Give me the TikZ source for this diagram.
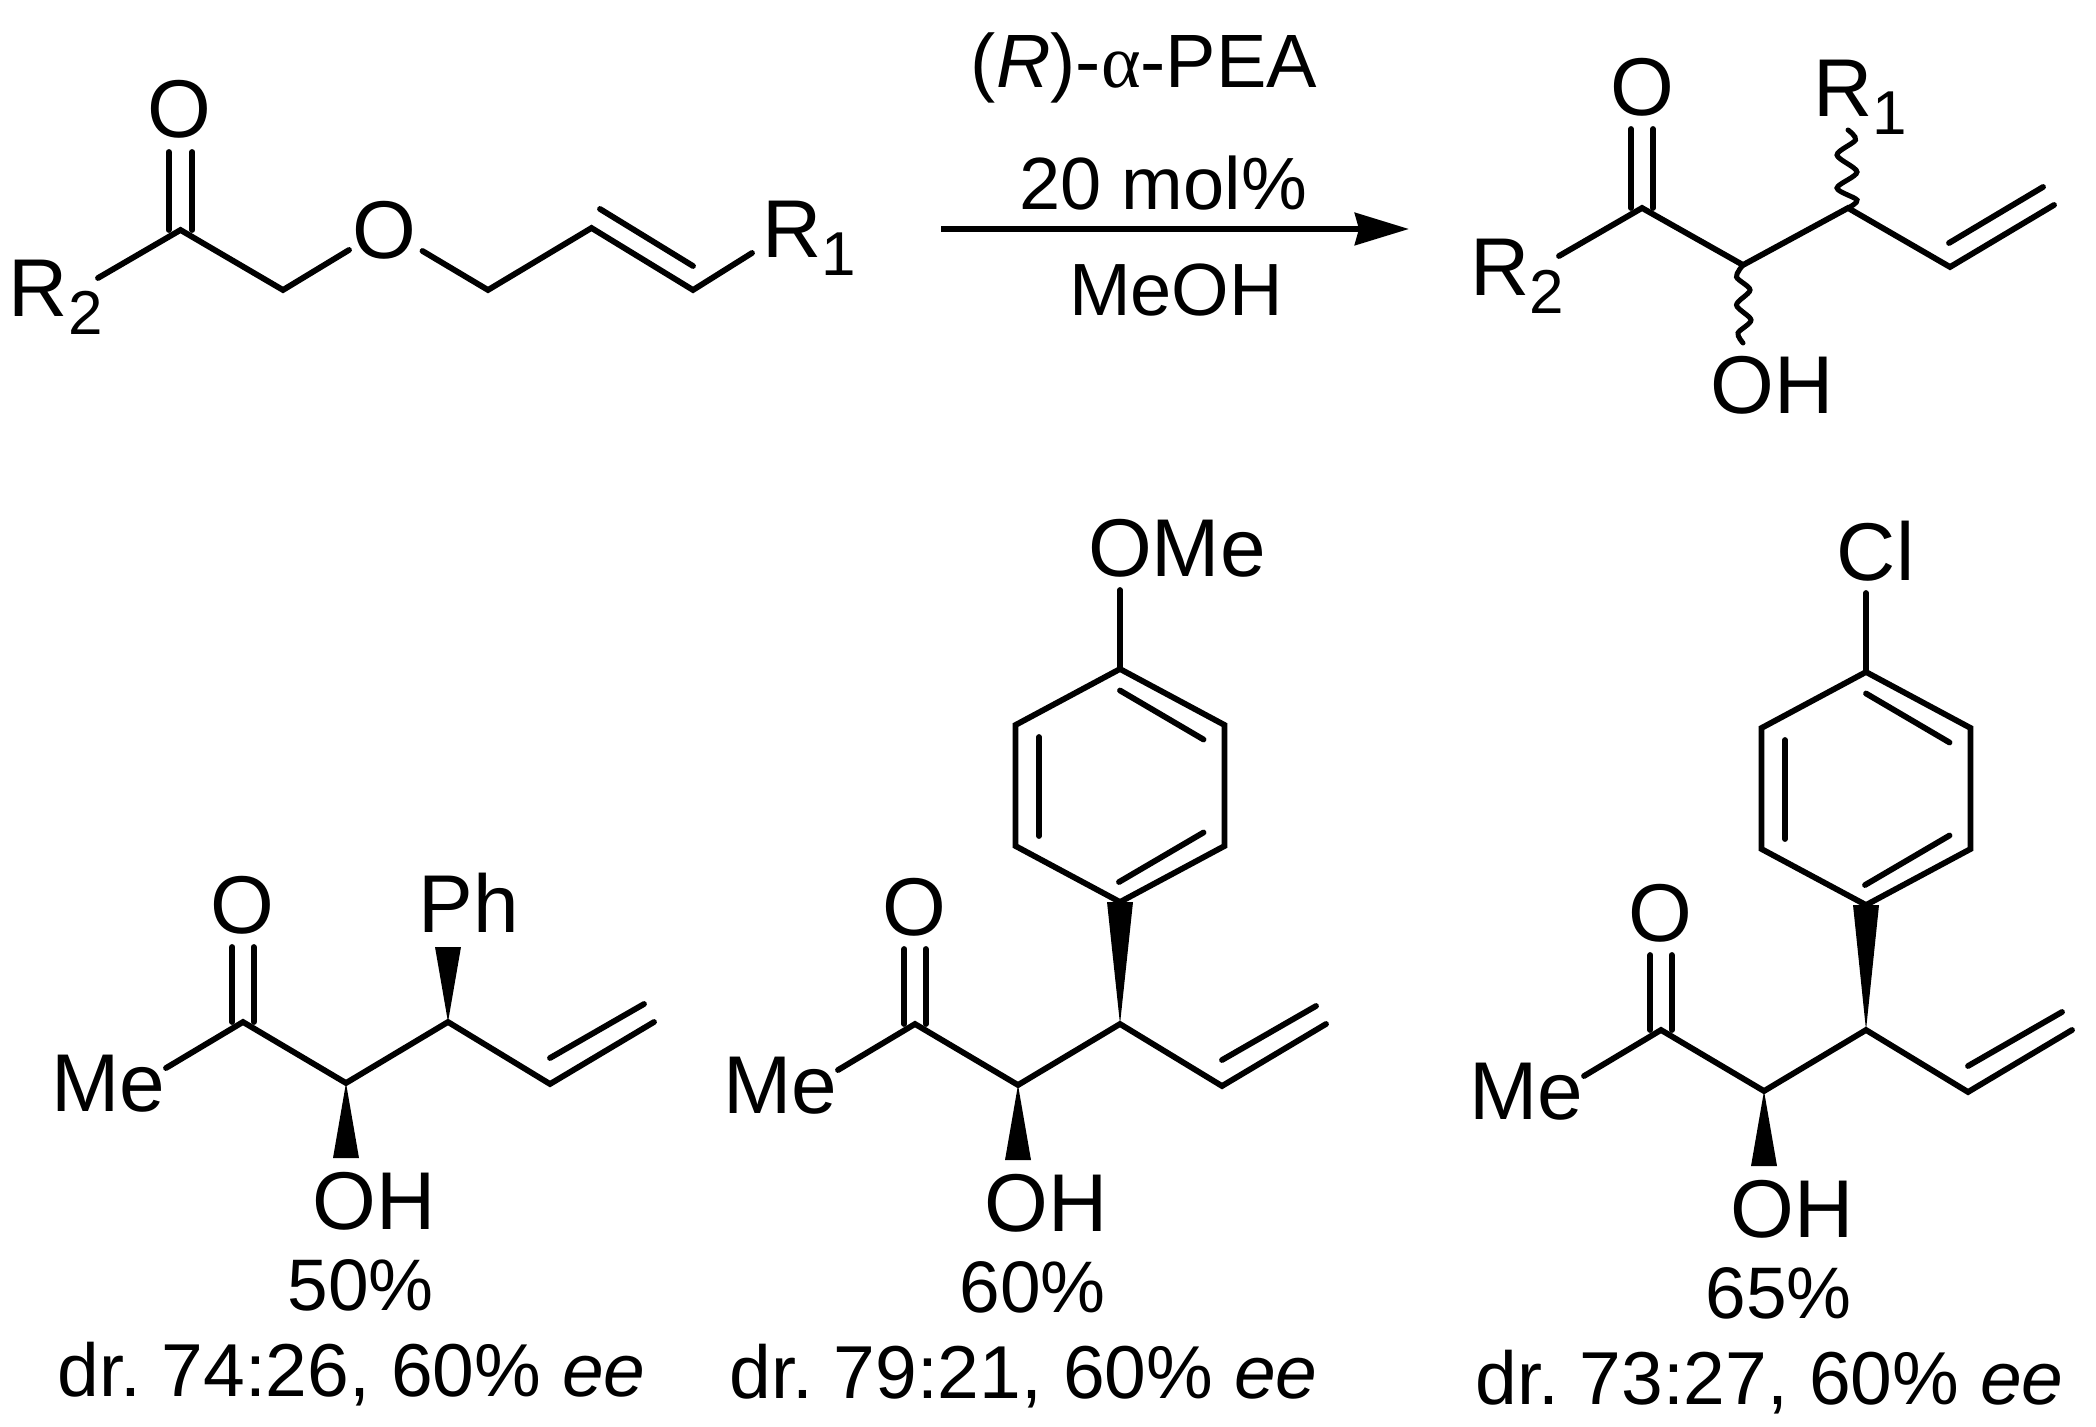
\documentclass[tikz,border=0pt]{standalone}
\usepackage{fontspec}
\setmainfont{Liberation Sans}
\newfontfamily\alphafont{Liberation Serif}
\usetikzlibrary{arrows.meta}

\newcommand{\lowdigit}[1]{\raisebox{-9pt}{\fontsize{31}{31}\selectfont #1}}

\tikzset{
  bond/.style={line width=2.9pt, line cap=round, line join=miter},
  wavybond/.style={line width=2.5pt, line cap=round},
  wedge/.style={fill=black, draw=none},
  atom/.style={inner sep=0pt, outer sep=0pt, anchor=base, font=\fontsize{41}{41}\selectfont},
  bigatom/.style={atom, font=\fontsize{41}{41}\selectfont},
  cond/.style={inner sep=0pt, outer sep=0pt, anchor=base, font=\fontsize{37}{37}\selectfont},
  result/.style={inner sep=0pt, outer sep=0pt, anchor=base, font=\fontsize{37.5}{37.5}\selectfont}
}

\begin{document}
\begin{tikzpicture}[x=0.5pt, y=-0.5pt]
\useasboundingbox (0,0) rectangle (2096,1427);

% starting material
\node[bigatom] (sO1) at (179.5,138) {O};
\node[bigatom] (sO2) at (384,259) {O};
\node[bigatom, anchor=base west] (sR2) at (9,317) {R\lowdigit{2}};
\node[bigatom, anchor=base west] (sR1) at (762,258) {R\lowdigit{1}};
\coordinate (s1) at (180.5,230);
\coordinate (s2) at (283,290);
\coordinate (s3) at (488,290);
\coordinate (s4) at (591.5,228);
\coordinate (s5) at (693,290);
\coordinate (sOend) at (180.5,152);
\coordinate (sR2end) at (98,278);
\coordinate (sO2a) at (349,250);
\coordinate (sO2b) at (422.5,251);
\coordinate (sR1end) at (752,253);
\coordinate (s4b) at (600,209);
\coordinate (s5b) at (693,266);
\draw[bond] (sR2end) -- (s1) -- (s2) -- (sO2a);
\draw[bond] (sO2b) -- (s3) -- (s4) -- (s5) -- (sR1end);
\draw[bond] (s4b) -- (s5b);
\draw[bond] ([xshift=-5.9pt]s1) -- ([xshift=-5.9pt]sOend);
\draw[bond] ([xshift=5.9pt]s1) -- ([xshift=5.9pt]sOend);

% arrow
\coordinate (arrowstart) at (941,229);
\coordinate (arrowend) at (1409,229);
\draw[line width=3.2pt, -{Stealth[length=27pt, width=16pt, inset=2pt]}] (arrowstart) -- (arrowend);
\node[cond, font=\fontsize{37.8}{37.8}\selectfont] (catalyst) at (1144,88) {(\textit{R})-{\alphafont α}-PEA};
\node[cond] (loading) at (1163,210) {20 mol\%};
\node[cond] (solvent) at (1176,316) {MeOH};

% general product
\node[bigatom] (pO) at (1642,116) {O};
\node[bigatom, anchor=base west] (pR2) at (1470,296) {R\lowdigit{2}};
\node[bigatom, anchor=base west] (pR1) at (1813,117) {R\lowdigit{1}};
\node[bigatom] (pOH) at (1772,414) {OH};
\coordinate (p1) at (1642,208);
\coordinate (p2) at (1743,265);
\coordinate (p3) at (1848,208);
\coordinate (p4) at (1950,267);
\coordinate (p5) at (2054,205);
\coordinate (pOend) at (1642,129);
\coordinate (pR2end) at (1559,256);
\coordinate (pR1end) at (1848,130);
\coordinate (pOHend) at (1743,343);
\coordinate (p4b) at (1949,243);
\coordinate (p5b) at (2043,187);
\draw[bond] (pR2end) -- (p1) -- (p2) -- (p3) -- (p4) -- (p5);
\draw[bond] (p4b) -- (p5b);
\draw[bond] ([xshift=-5.5pt]p1) -- ([xshift=-5.5pt]pOend);
\draw[bond] ([xshift=5.5pt]p1) -- ([xshift=5.5pt]pOend);
\draw[wavybond] plot[smooth] coordinates {(p3) (1857,200) (1837,188) (1857,172) (1837,155) (1855.5,140) (pR1end)};
\draw[wavybond] plot[smooth] coordinates {(p2) (1736.5,277) (1750,290) (1736.5,305) (1751,320) (1738,333) (pOHend)};

% the three products
\foreach \nm/\dx/\dy/\yld/\ratio in {a/0/0/50/74:26, b/672/2/60/79:21, c/1418/8/65/73:27}{
  \begin{scope}[shift={(\dx,\dy)}]
    \node[atom] (\nm O) at (242,933) {O};
    \node[atom] (\nm Me) at (108,1111) {Me};
    \node[atom] (\nm OH) at (374,1229) {OH};
    \node[result, font=\fontsize{36.5}{36.5}\selectfont] (\nm yield) at (360.5,1310) {\yld\%};
    \node[result] (\nm dr) at (351.5,1396) {dr.\ \ratio, 60\% \textit{ee}};
    \coordinate (\nm1) at (243,1022);
    \coordinate (\nm2) at (346,1083);
    \coordinate (\nm3) at (448,1022);
    \coordinate (\nm4) at (550,1084);
    \coordinate (\nm5) at (654,1022);
    \coordinate (\nm Oend) at (243,947);
    \coordinate (\nm Meend) at (166,1068);
    \coordinate (\nm OHa) at (333,1158);
    \coordinate (\nm OHb) at (359,1158);
    \coordinate (\nm4b) at (550,1058);
    \coordinate (\nm5b) at (644,1004);
    \draw[bond] (\nm Meend) -- (\nm1) -- (\nm2) -- (\nm3) -- (\nm4) -- (\nm5);
    \draw[bond] (\nm4b) -- (\nm5b);
    \draw[bond] ([xshift=-5.35pt]\nm1) -- ([xshift=-5.35pt]\nm Oend);
    \draw[bond] ([xshift=5.35pt]\nm1) -- ([xshift=5.35pt]\nm Oend);
    \fill[wedge] (\nm2) -- (\nm OHa) -- (\nm OHb) -- cycle;
  \end{scope}
}

% Ph on the first one
\node[atom] (aPh) at (468.5,932) {Ph};
\coordinate (aPha) at (435,947);
\coordinate (aPhb) at (461,947);
\fill[wedge] (a3) -- (aPha) -- (aPhb) -- cycle;

% aryl rings
\foreach \nm/\dx/\dy in {b/0/0, c/746/3}{
  \begin{scope}[shift={(\dx,\dy)}]
    \coordinate (\nm r1) at (1120,669);
    \coordinate (\nm r2) at (1224.5,725);
    \coordinate (\nm r3) at (1224.5,846);
    \coordinate (\nm r4) at (1120,902);
    \coordinate (\nm r5) at (1015.5,846);
    \coordinate (\nm r6) at (1015.5,725);
    \coordinate (\nm up) at (1120,590);
    \draw[bond] (\nm r1) -- (\nm r2) -- (\nm r3) -- (\nm r4) -- (\nm r5) -- (\nm r6) -- cycle;
    \draw[bond] (\nm up) -- (\nm r1);
    \draw[bond] (1120,690.5) coordinate (\nm i1) -- (1203.5,739.5) coordinate (\nm i2);
    \draw[bond] (1039,737) coordinate (\nm i3) -- (1039,836) coordinate (\nm i4);
    \draw[bond] (1119,882) coordinate (\nm i5) -- (1203.5,832.5) coordinate (\nm i6);
    \coordinate (\nm ra) at (1107,902);
    \coordinate (\nm rb) at (1133,902);
    \fill[wedge] (\nm ra) -- (\nm rb) -- (\nm3) -- cycle;
  \end{scope}
}
\node[atom] (bOMe) at (1177,576) {OMe};
\node[atom] (cCl) at (1875.5,580) {Cl};

\end{tikzpicture}
\end{document}
